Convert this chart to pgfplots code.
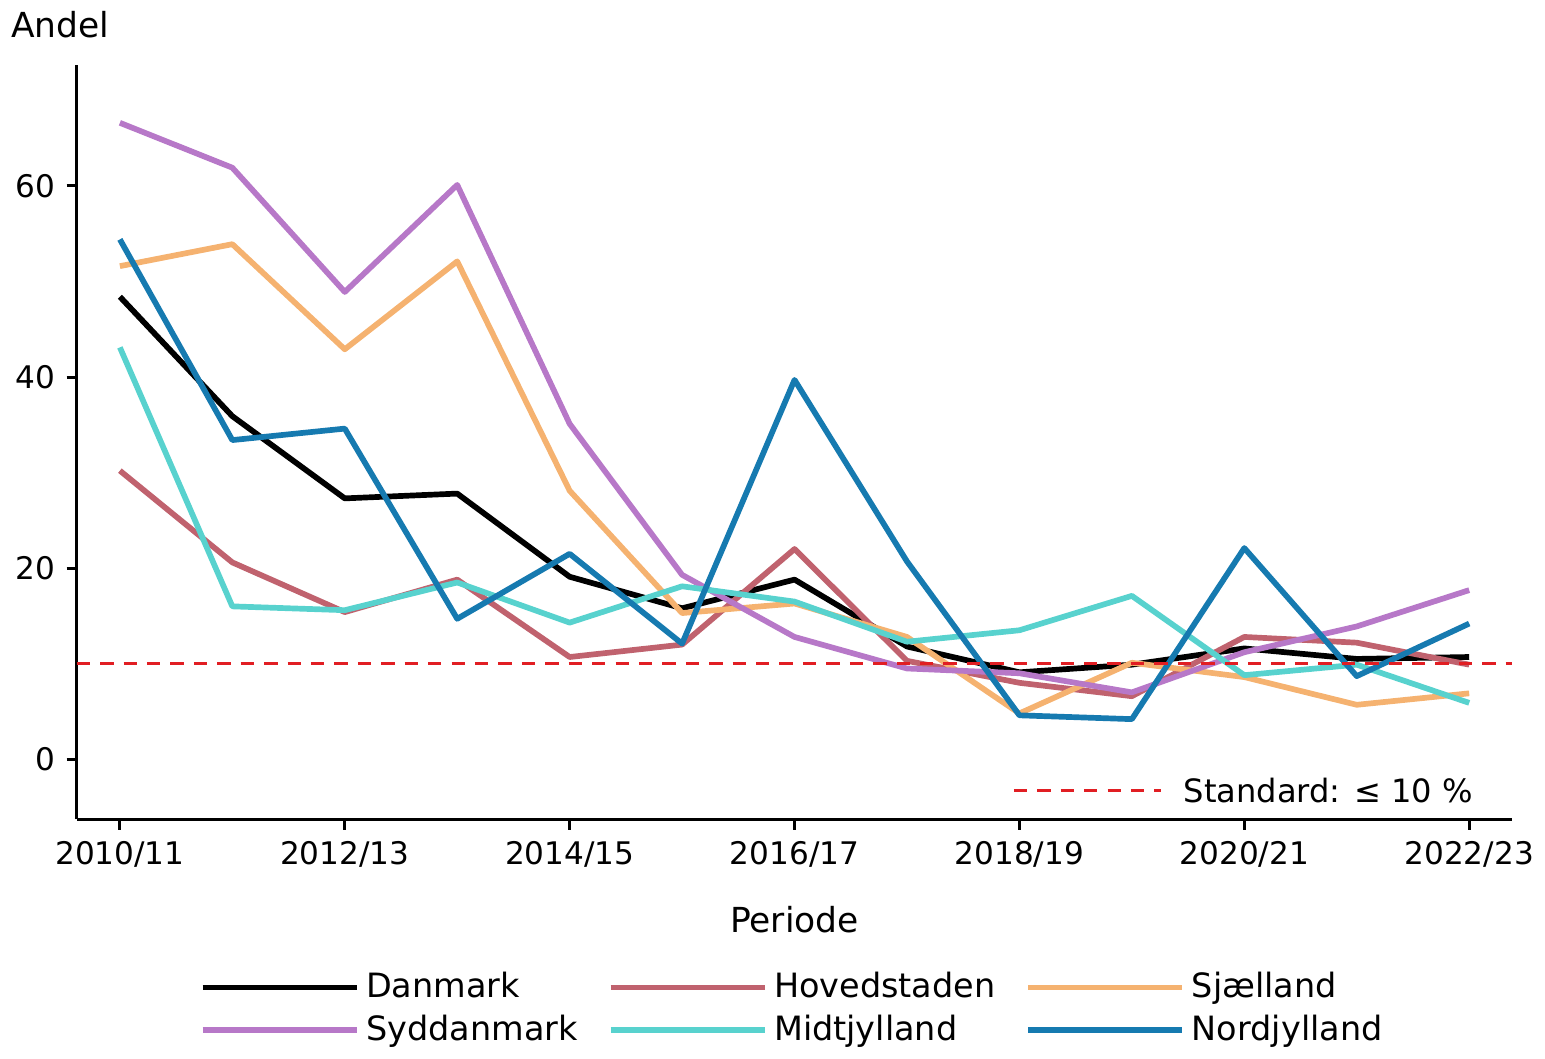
\documentclass[border=0pt]{standalone}
\usepackage{fontspec}
\setmainfont{DejaVu Sans}
\usepackage{pgfplots}
\pgfplotsset{compat=1.18}
\definecolor{cDan}{RGB}{0,0,0}
\definecolor{cHov}{RGB}{192,98,110}
\definecolor{cSja}{RGB}{245,178,112}
\definecolor{cSyd}{RGB}{183,120,200}
\definecolor{cMid}{RGB}{88,210,206}
\definecolor{cNor}{RGB}{22,122,176}
\definecolor{cStd}{RGB}{225,30,35}
\begin{document}
\begin{tikzpicture}
\begin{axis}[
  scale only axis,
  width=429pt, height=225.6pt,
  xmin=-0.384, xmax=12.384,
  ymin=-6.3, ymax=72.7,
  axis x line*=bottom, axis y line*=left,
  axis line style={-, line width=0.9pt, black},
  tick align=outside,
  major tick length=3pt,
  tick style={line width=0.9pt, black},
  xtick={0,2,4,6,8,10,12},
  xticklabels={2010/11,2012/13,2014/15,2016/17,2018/19,2020/21,2022/23},
  ytick={0,20,40,60},
  /pgf/number format/assume math mode=true,
  tick label style={font=\fontsize{9.3}{11}\selectfont},
  xlabel={Periode},
  xlabel style={font=\fontsize{10.3}{12}\selectfont, at={(axis description cs:0.5,0)}, anchor=center, yshift=-30pt},
  legend columns=3,
  legend cell align=left,
  legend style={draw=none, fill=none, at={(axis description cs:0.5,0)}, anchor=north, yshift=-41.5pt,
    font=\fontsize{10}{12}\selectfont, row sep=-0.5pt,
    /tikz/every even column/.append style={column sep=7pt}},
  legend image code/.code={\draw[#1] (0pt,0pt) -- (46pt,0pt);},
  every axis plot/.append style={line width=1.7pt, line join=round},
  clip=false,
]
\addplot[cDan] coordinates {(0,48.4)(1,35.9)(2,27.3)(3,27.8)(4,19.1)(5,15.8)(6,18.8)(7,11.8)(8,9.1)(9,9.9)(10,11.6)(11,10.5)(12,10.7)};
\addlegendentry{Danmark}
\addplot[cHov] coordinates {(0,30.2)(1,20.6)(2,15.4)(3,18.8)(4,10.7)(5,12.0)(6,22.0)(7,10.3)(8,8.0)(9,6.6)(10,12.8)(11,12.2)(12,9.9)};
\addlegendentry{Hovedstaden}
\addplot[cSja] coordinates {(0,51.6)(1,53.9)(2,42.9)(3,52.1)(4,28.1)(5,15.3)(6,16.3)(7,12.8)(8,4.8)(9,10.1)(10,8.6)(11,5.7)(12,6.9)};
\addlegendentry{Sjælland}
\addplot[cSyd] coordinates {(0,66.6)(1,61.9)(2,48.9)(3,60.1)(4,35.1)(5,19.3)(6,12.8)(7,9.5)(8,9.0)(9,7.0)(10,11.2)(11,13.9)(12,17.7)};
\addlegendentry{Syddanmark}
\addplot[cMid] coordinates {(0,43.1)(1,16.0)(2,15.6)(3,18.5)(4,14.3)(5,18.1)(6,16.5)(7,12.3)(8,13.5)(9,17.1)(10,8.8)(11,9.9)(12,5.9)};
\addlegendentry{Midtjylland}
\addplot[cNor] coordinates {(0,54.4)(1,33.4)(2,34.6)(3,14.7)(4,21.5)(5,12.1)(6,39.7)(7,20.7)(8,4.6)(9,4.2)(10,22.1)(11,8.7)(12,14.2)};
\addlegendentry{Nordjylland}
\addplot[cStd, line width=0.9pt, dash pattern=on 4pt off 3pt, forget plot] coordinates {(-0.384,10)(12.384,10)};
\draw[cStd, line width=0.9pt, dash pattern=on 4pt off 3pt] (axis cs:7.95,-3.26) -- (axis cs:9.26,-3.26);
\node[anchor=west, inner sep=0pt, font=\fontsize{9.6}{11}\selectfont] at (axis cs:9.455,-3.26) {Standard: ≤ 10 \%};
\node[anchor=center, font=\fontsize{10.3}{12}\selectfont] at (axis description cs:-0.0115,1.053) {Andel};
\end{axis}
\end{tikzpicture}
\end{document}
